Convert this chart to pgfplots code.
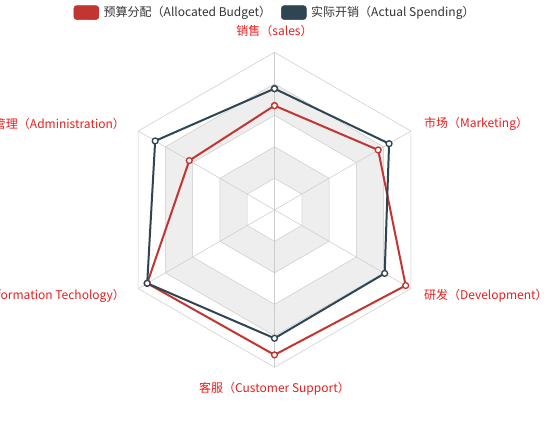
\documentclass[border=0pt]{standalone}
\usepackage{pgfplots}
\usepackage{pgfplotstable}
\pgfplotsset{compat=1.18}
\usepackage{fontspec}
\setmainfont{Noto Sans CJK SC}
\definecolor{budget}{HTML}{C23531}
\definecolor{spend}{HTML}{2F4554}
\definecolor{gridc}{HTML}{CCCCCC}
\definecolor{band}{HTML}{EEEEEE}
\definecolor{nm}{HTML}{EB1C1C}
\definecolor{txt}{HTML}{333333}

% angle of each spoke, indicator max, allocated budget, actual spending
\pgfplotstableread{
angle max budget actual
90 6500 4300 5000
150 16000 10000 14000
210 30000 28000 28000
270 38000 35000 31000
330 52000 50000 42000
30 25000 19000 21000
90 6500 4300 5000
}\radar

\begin{document}
\fontsize{9pt}{11pt}\selectfont
\begin{tikzpicture}
\begin{axis}[
  name=ax,
  x=118.125pt, y=118.125pt,
  xmin=-1.7429, xmax=1.7492,
  ymin=-1.3346, ymax=1.3321,
  hide axis, clip=false,
  legend columns=2,
  legend image code/.code={\fill[#1, rounded corners=2.25pt] (0pt,-5.25pt) rectangle (18.75pt,5.25pt);},
  legend style={at={(axis cs:0.012,1.300)}, anchor=north, draw=none, fill=none,
    font=\fontsize{9pt}{11pt}\selectfont, text=txt, inner sep=0pt,
    nodes={inner xsep=3.5pt, inner ysep=0pt},
    /tikz/every even column/.append style={column sep=4pt}},
]
% split areas, outermost first
\addplot[data cs=polar, fill=white, draw=gridc, forget plot] coordinates {(90,1) (150,1) (210,1) (270,1) (330,1) (30,1) (90,1)};
\addplot[data cs=polar, fill=band, draw=gridc, forget plot] coordinates {(90,0.8) (150,0.8) (210,0.8) (270,0.8) (330,0.8) (30,0.8) (90,0.8)};
\addplot[data cs=polar, fill=white, draw=gridc, forget plot] coordinates {(90,0.6) (150,0.6) (210,0.6) (270,0.6) (330,0.6) (30,0.6) (90,0.6)};
\addplot[data cs=polar, fill=band, draw=gridc, forget plot] coordinates {(90,0.4) (150,0.4) (210,0.4) (270,0.4) (330,0.4) (30,0.4) (90,0.4)};
\addplot[data cs=polar, fill=white, draw=gridc, forget plot] coordinates {(90,0.2) (150,0.2) (210,0.2) (270,0.2) (330,0.2) (30,0.2) (90,0.2)};
% spokes
\pgfplotsinvokeforeach{30,90,150,210,270,330}{
  \addplot[data cs=polar, gridc, forget plot] coordinates {(#1,0) (#1,1)};
}
% series
\addplot[data cs=polar, budget, line width=1.5pt, mark=*, mark size=2.2pt,
  mark options={fill=white, line width=1pt}, forget plot]
  table[x=angle, y expr=\thisrow{budget}/\thisrow{max}] {\radar};
\addplot[data cs=polar, spend, line width=1.5pt, mark=*, mark size=2.2pt,
  mark options={fill=white, line width=1pt}, forget plot]
  table[x=angle, y expr=\thisrow{actual}/\thisrow{max}] {\radar};

\addlegendimage{budget}
\addlegendentry{预算分配（Allocated Budget）}
\addlegendimage{spend}
\addlegendentry{实际开销（Actual Spending）}

% indicator names
\node[text=nm, anchor=south, inner sep=0pt] at (axis cs:0,1.095) {销售（sales）};
\node[text=nm, anchor=east, inner sep=0pt] at (axis cs:-0.948,0.548) {管理（Administration）};
\node[text=nm, anchor=east, inner sep=0pt] at (axis cs:-0.948,-0.548) {信息技术（Information Techology）};
\node[text=nm, anchor=north, inner sep=0pt] at (axis cs:0,-1.095) {客服（Customer Support）};
\node[text=nm, anchor=west, inner sep=0pt] at (axis cs:0.948,-0.548) {研发（Development）};
\node[text=nm, anchor=west, inner sep=0pt] at (axis cs:0.948,0.548) {市场（Marketing）};
\end{axis}
\pgfresetboundingbox
\path[use as bounding box] (ax.south west) rectangle (ax.north east);
\end{tikzpicture}
\end{document}
